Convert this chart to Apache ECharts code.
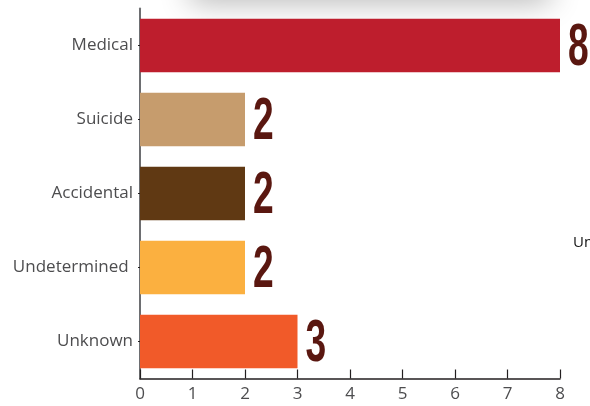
<!DOCTYPE html>
<html>
<head>
<meta charset="utf-8">
<script src="https://cdn.jsdelivr.net/npm/echarts@6/dist/echarts.min.js"></script>
<style>html,body{margin:0;padding:0;background:#fff;}#c{width:590px;height:406px;}</style>
</head>
<body>
<div id="c"></div>
<script>
const categories = ['Medical', 'Suicide', 'Accidental', 'Undetermined ', 'Unknown'];
const values = [8, 2, 2, 2, 3];
const barColors = ['#BE1E2D', '#C69C6D', '#603913', '#FBB040', '#F15A29'];
const xTicks = [0, 1, 2, 3, 4, 5, 6, 7, 8];

const chart = echarts.init(document.getElementById('c'), null, {renderer: 'canvas'});
chart.setOption({
  animation: false,
  backgroundColor: '#ffffff',
  grid: {left: 140, right: 30, top: 8.5, bottom: 27.5, containLabel: false},
  xAxis: {
    type: 'value', min: xTicks[0], max: xTicks[xTicks.length - 1], interval: 1,
    splitLine: {show: false},
    axisLine: {show: true, lineStyle: {color: '#231f20', width: 1.5}},
    axisTick: {show: true, inside: true, length: 9, lineStyle: {color: '#231f20', width: 1.2}},
    axisLabel: {color: '#4d4d4f', fontSize: 17, fontFamily: 'Open Sans', margin: 7}
  },
  yAxis: {
    type: 'category', data: categories, inverse: true,
    axisLine: {show: true, lineStyle: {color: '#6d6e71', width: 2}},
    axisTick: {show: true, length: 2, alignWithLabel: true, lineStyle: {color: '#231f20'}},
    axisLabel: {color: '#4d4d4f', fontSize: 17, fontFamily: 'Open Sans', margin: 7, padding: [4, 0, 0, 0]}
  },
  series: [{
    type: 'bar',
    data: values.map((v, i) => ({value: v, itemStyle: {color: barColors[i]}})),
    barCategoryGap: '28%',
    z: 3
  }, {
    type: 'custom',
    data: values.map((v, i) => [v, i]),
    encode: {x: 0, y: 1},
    z: 4,
    renderItem: function (params, api) {
      const p = api.coord([api.value(0), api.value(1)]);
      return {
        type: 'text',
        x: p[0] + 8, y: p[1] + 3,
        scaleX: 0.62,
        style: {
          text: String(api.value(0)),
          fill: '#5a1710',
          font: 'bold 60px "Liberation Sans", Arial, sans-serif',
          textAlign: 'left', textVerticalAlign: 'middle'
        }
      };
    }
  }],
  graphic: [
    {type: 'rect', z: -1, shape: {x: 190, y: -30, width: 360, height: 30},
     style: {fill: '#ffffff', shadowBlur: 30, shadowColor: 'rgba(0,0,0,0.3)', shadowOffsetY: 2}},
    {type: 'text', left: 573, top: 235,
     style: {text: 'Unknown', fill: '#111', fontSize: 15, fontFamily: 'Open Sans'}}
  ]
});
</script>
</body>
</html>
